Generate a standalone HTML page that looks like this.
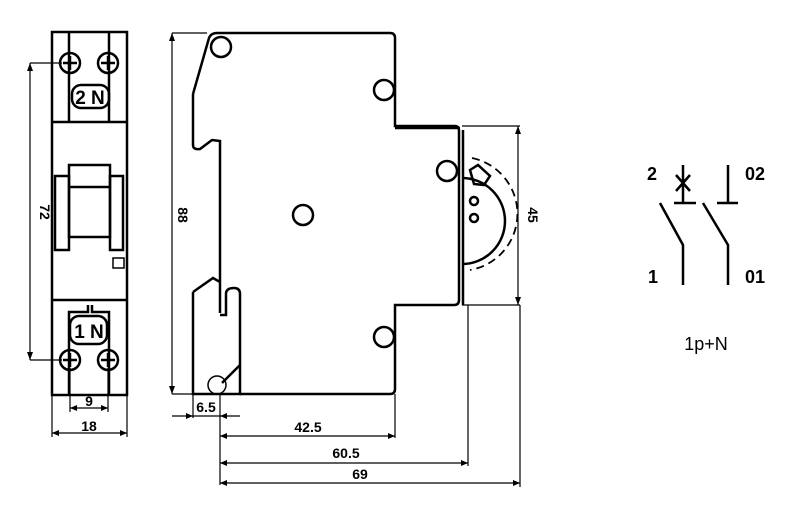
<!DOCTYPE html>
<html><head><style>html,body{margin:0;padding:0;background:#fff}svg{display:block}</style></head>
<body>
<svg width="800" height="510" viewBox="0 0 800 510" xmlns="http://www.w3.org/2000/svg" font-family="Liberation Sans, sans-serif">
<g fill="none" stroke="#000" stroke-width="2.5">
<!-- front view -->
<rect x="52" y="32" width="75" height="363"/>
<line x1="52" y1="122" x2="127" y2="122"/>
<line x1="52" y1="300" x2="127" y2="300"/>
<line x1="69" y1="32" x2="69" y2="122"/>
<line x1="109" y1="32" x2="109" y2="122"/>
<path d="M69 395 V312 H88 V305 M92 305 V312 H109 V395"/>
<rect x="72" y="85" width="37" height="23" rx="9"/>
<rect x="70" y="316" width="37" height="28" rx="9"/>
<rect x="69" y="165" width="41" height="72"/>
<line x1="69" y1="187" x2="110" y2="187"/>
<rect x="55" y="176" width="14" height="74"/>
<rect x="110" y="176" width="13" height="74"/>
<rect x="113" y="258" width="11" height="10" stroke-width="1.5"/>
</g>
<g fill="none" stroke="#000" stroke-width="2.5">
<circle cx="70" cy="63" r="10"/><circle cx="108" cy="63" r="10"/>
<circle cx="70" cy="360" r="10"/><circle cx="108" cy="360" r="10"/>
</g>
<g stroke="#000" stroke-width="2.5">
<path d="M63 63h14M70 56v14M101 63h14M108 56v14M63 360h14M70 353v14M101 360h14M108 353v14"/>
</g>
<g font-weight="bold" font-size="19" text-anchor="middle">
<text x="90" y="104">2 N</text><text x="89" y="338">1 N</text>
</g>
<!-- front dims -->
<g stroke="#000" stroke-width="1.2" fill="none">
<path d="M30 63V360M30 63H62M30 360H62"/>
<path d="M70 368V412M108 368V412M52 395V437M127 395V437"/>
<path d="M70 408H108M52 433H127"/>
</g>
<g fill="#000">
<path d="M30 63l-3 8h6zM30 360l-3-8h6z"/>
<path d="M70 408l7-3v6zM108 408l-7-3v6zM52 433l7-3v6zM127 433l-7-3v6z"/>
</g>
<g font-size="14" font-weight="600" text-anchor="middle">
<text x="40" y="212" transform="rotate(90 40 212)">72</text>
<text x="89" y="406">9</text>
<text x="89" y="431">18</text>
</g>

<!-- side view -->
<g fill="none" stroke="#000" stroke-width="2.5">
<path d="M193 94 L209 38 Q211 33 217 33 H390 Q395 33 395 38 V126 H455 Q459 126 459 131 V300 Q459 305 454 305 H395 V389 Q395 394 390 394 H240"/>
<path d="M193 94 V145 Q193 150 200 149 L212 140 L220 141 V313"/>
<path d="M193 292 L213 278 L220 282"/>
<path d="M193 292 V394 H240 V294 Q240 288 234 288 Q226 288 226 294 V315 L220 315"/>
<path d="M240 365 L222 383"/>
<path d="M463 130 V305 M395 128 H460"/>
<path d="M462 178 A42 42 0 0 1 462 264" />
<circle cx="221" cy="47" r="10"/>
<circle cx="384" cy="90" r="10"/>
<circle cx="447" cy="171" r="10"/>
<circle cx="303" cy="215" r="10"/>
<circle cx="384" cy="337" r="10"/>
<circle cx="474" cy="201" r="4"/>
<circle cx="474" cy="218" r="4"/>
<path d="M470 170 L478 165 L490 176 L484 185 L474 184 Z"/>
<circle cx="217" cy="385" r="9" stroke-width="1.5"/>
</g>
<path d="M472 158 A57 57 0 0 1 470 270" fill="none" stroke="#000" stroke-width="1.8" stroke-dasharray="8 5"/>
<!-- side dims -->
<g stroke="#000" stroke-width="1.2" fill="none">
<path d="M172 33V394M172 33H207M172 394H193"/>
<path d="M518 126V305M462 126H520M462 305H520"/>
<path d="M193 394V418M220 394V485M395 394V438M468 305V466M520 305V487"/>
<path d="M172 416H240M220 436H395M220 463H468M220 483H520"/>
</g>
<g fill="#000">
<path d="M172 33l-3 8h6zM172 394l-3-8h6zM518 126l-3 8h6zM518 305l-3-8h6z"/>
<path d="M193 416l-7-3v6zM220 416l7-3v6zM220 436l7-3v6zM395 436l-7-3v6zM220 463l7-3v6zM468 463l-7-3v6zM220 483l7-3v6zM520 483l-7-3v6z"/>
</g>
<g font-size="14" font-weight="600" text-anchor="middle">
<text x="178" y="215" transform="rotate(90 178 215)">88</text>
<text x="528" y="215" transform="rotate(90 528 215)">45</text>
<text x="206" y="412">6.5</text>
<text x="308" y="432">42.5</text>
<text x="346" y="458">60.5</text>
<text x="360" y="479">69</text>
</g>
<!-- symbol -->
<g stroke="#000" stroke-width="2.5" fill="none">
<path d="M683 165V203M674 203H696M676 175L690 191M690 175L676 191"/>
<path d="M728 165V203M717 203H738"/>
<path d="M660 203L683 245V285M703 203L728 245V285"/>
</g>
<g font-weight="bold" font-size="18">
<text x="647" y="180">2</text><text x="745" y="180">02</text>
<text x="648" y="283">1</text><text x="745" y="283">01</text>
</g>
<text x="706" y="350" font-size="18" text-anchor="middle">1p+N</text>
</svg>
</body></html>
